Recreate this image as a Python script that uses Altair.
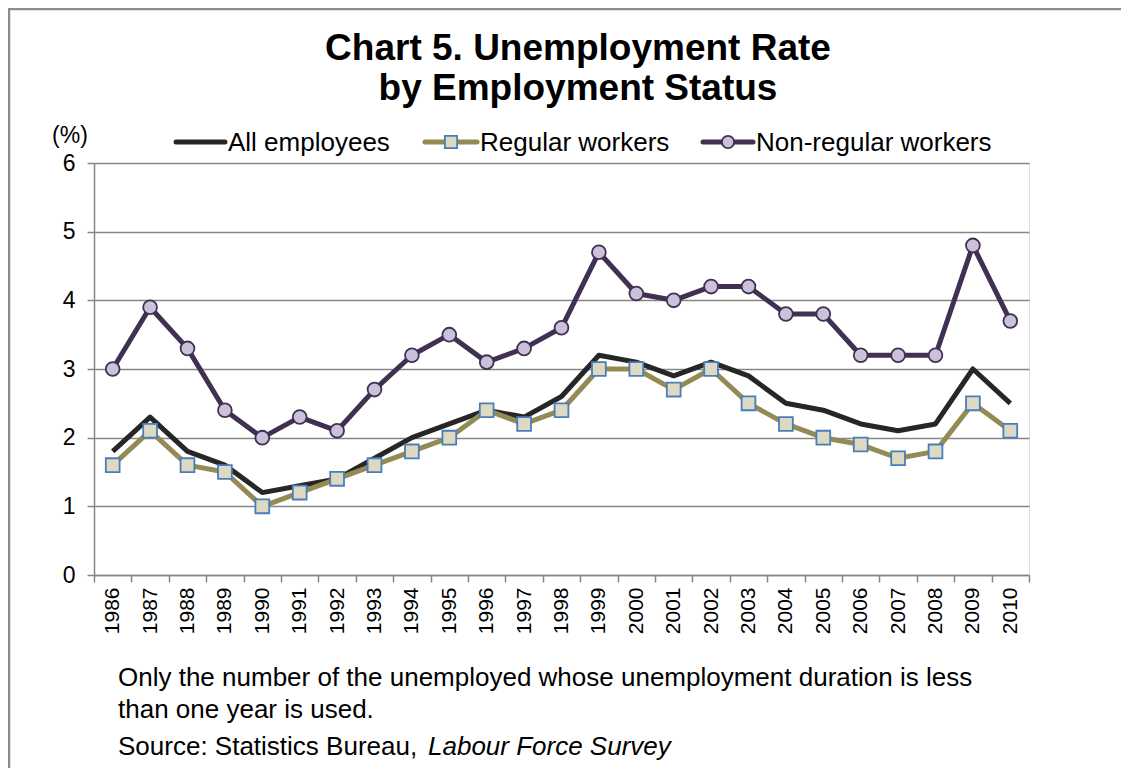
import altair as alt
import pandas as pd

# ---- data ----
years = list(range(1986, 2011))
all_employees = [1.8, 2.3, 1.8, 1.6, 1.2, 1.3, 1.4, 1.7, 2.0, 2.2, 2.4, 2.3, 2.6,
                 3.2, 3.1, 2.9, 3.1, 2.9, 2.5, 2.4, 2.2, 2.1, 2.2, 3.0, 2.5]
regular_workers = [1.6, 2.1, 1.6, 1.5, 1.0, 1.2, 1.4, 1.6, 1.8, 2.0, 2.4, 2.2, 2.4,
                   3.0, 3.0, 2.7, 3.0, 2.5, 2.2, 2.0, 1.9, 1.7, 1.8, 2.5, 2.1]
non_regular_workers = [3.0, 3.9, 3.3, 2.4, 2.0, 2.3, 2.1, 2.7, 3.2, 3.5, 3.1, 3.3, 3.6,
                       4.7, 4.1, 4.0, 4.2, 4.2, 3.8, 3.8, 3.2, 3.2, 3.2, 4.8, 3.7]
series_names = ["All employees", "Regular workers", "Non-regular workers"]
y_ticks = [0, 1, 2, 3, 4, 5, 6]
title_lines = ["Chart 5. Unemployment Rate", "by Employment Status"]
note_lines = ["Only the number of the unemployed whose unemployment duration is less",
              "than one year is used."]
source_plain = "Source: Statistics Bureau,"
source_italic = "Labour Force Survey"
unit_label = "(%)"

rows = []
for name, vals in zip(series_names, [all_employees, regular_workers, non_regular_workers]):
    for yr, v in zip(years, vals):
        rows.append({"year": yr, "value": v, "series": name})
df = pd.DataFrame(rows)

# ---- styles ----
FONT = "Liberation Sans"
GRID = "#868686"
C_ALL = "#262626"
C_REG = "#948A54"
C_NON = "#403152"
SQ_FILL = "#DDD9C3"
SQ_STROKE = "#4A7EBB"
CI_FILL = "#CCC1DA"

W, H = 935, 412
PAD = {"left": 86, "top": 155, "right": 92, "bottom": 193}

tick_vals = [y - 0.5 for y in years] + [years[-1] + 0.5]
band = W / len(years)

x_enc = alt.X(
    "year:Q",
    scale=alt.Scale(domain=[years[0] - 0.5, years[-1] + 0.5], nice=False, zero=False),
    axis=alt.Axis(
        values=tick_vals,
        labelExpr=f"datum.value < {years[-1]} ? toString(datum.value + 0.5) : ''",
        labelOffset=band / 2,
        labelAngle=270,
        labelAlign="right",
        labelBaseline="middle",
        labelFont=FONT,
        labelFontSize=21,
        labelColor="#000000",
        labelPadding=5,
        labelOverlap=False,
        labelBound=False,
        labelFlush=False,
        tickSize=7,
        tickColor=GRID,
        tickWidth=1.5,
        domainColor=GRID,
        domainWidth=1.5,
        grid=False,
        title=None,
    ),
)
y_enc = alt.Y(
    "value:Q",
    scale=alt.Scale(domain=[0, 6], nice=False),
    axis=alt.Axis(
        values=y_ticks,
        labelFont=FONT,
        labelFontSize=23,
        labelColor="#000000",
        labelPadding=12,
        tickSize=7,
        tickColor=GRID,
        tickWidth=1.5,
        domainColor=GRID,
        domainWidth=1.5,
        grid=True,
        gridColor=GRID,
        gridWidth=1.5,
        title=None,
    ),
)

base = alt.Chart(df).encode(x=x_enc, y=y_enc)

line_all = base.transform_filter(alt.datum.series == series_names[0]).mark_line(
    color=C_ALL, strokeWidth=5, strokeJoin="round")
line_reg = base.transform_filter(alt.datum.series == series_names[1]).mark_line(
    color=C_REG, strokeWidth=5, strokeJoin="round")
pts_reg = base.transform_filter(alt.datum.series == series_names[1]).mark_point(
    shape="square", filled=True, fill=SQ_FILL, stroke=SQ_STROKE, strokeWidth=1.8,
    size=190, opacity=1)
line_non = base.transform_filter(alt.datum.series == series_names[2]).mark_line(
    color=C_NON, strokeWidth=5, strokeJoin="round")
pts_non = base.transform_filter(alt.datum.series == series_names[2]).mark_point(
    shape="circle", filled=True, fill=CI_FILL, stroke=C_NON, strokeWidth=1.8,
    size=190, opacity=1)

one = pd.DataFrame({"k": [0]})


def text_layer(txt, x, y, size, align="left", weight="normal", style="normal"):
    return alt.Chart(one).mark_text(
        text=txt, align=align, baseline="alphabetic", fontSize=size,
        fontWeight=weight, fontStyle=style, color="#000000", font=FONT,
    ).encode(x=alt.value(x), y=alt.value(y))


def rule_layer(x1, x2, y1, y2, color, width):
    return alt.Chart(one).mark_rule(color=color, strokeWidth=width, strokeCap="round").encode(
        x=alt.value(x1), x2=alt.value(x2), y=alt.value(y1), y2=alt.value(y2))


layers = []
# frame (top and left edges visible in the reference)
layers.append(rule_layer(-85, W + PAD["right"], -154, -154, "#8C8C8C", 2.5))
layers.append(rule_layer(-85, -85, -154, H + PAD["bottom"], "#8C8C8C", 2.5))

# title
layers.append(text_layer(title_lines[0], 484, -103, 37, align="center", weight="bold"))
layers.append(text_layer(title_lines[1], 484, -63, 37, align="center", weight="bold"))

# unit label
layers.append(text_layer(unit_label, -24, -20, 23, align="center"))

# legend
leg_y = -21
leg_text_y = -12
leg_line_x = [(82, 131), (331, 383), (609, 659)]
leg_text_x = [134, 386, 662]
leg_colors = [C_ALL, C_REG, C_NON]
for (a, b), tx, col, name in zip(leg_line_x, leg_text_x, leg_colors, series_names):
    layers.append(rule_layer(a, b, leg_y, leg_y, col, 5))
    layers.append(text_layer(name, tx, leg_text_y, 26))
layers.append(alt.Chart(one).mark_point(
    shape="square", filled=True, fill=SQ_FILL, stroke=SQ_STROKE, strokeWidth=1.8,
    size=150, opacity=1).encode(x=alt.value(357), y=alt.value(leg_y)))
layers.append(alt.Chart(one).mark_point(
    shape="circle", filled=True, fill=CI_FILL, stroke=C_NON, strokeWidth=1.8,
    size=150, opacity=1).encode(x=alt.value(634), y=alt.value(leg_y)))

# footnotes
layers.append(text_layer(note_lines[0], 24, 523, 26))
layers.append(text_layer(note_lines[1], 24, 555, 26))
layers.append(text_layer(source_plain, 24, 592, 26))
layers.append(text_layer(source_italic, 334, 592, 26, style="italic"))

chart = alt.layer(
    line_all, line_reg, pts_reg, line_non, pts_non, *layers
).properties(
    width=W,
    height=H,
    autosize=alt.AutoSizeParams(type="none"),
    padding=PAD,
    background="#FFFFFF",
).configure_view(
    stroke=None
).configure(
    font=FONT
)

chart.save("out.html", embed_options={"renderer": "svg", "actions": False})
